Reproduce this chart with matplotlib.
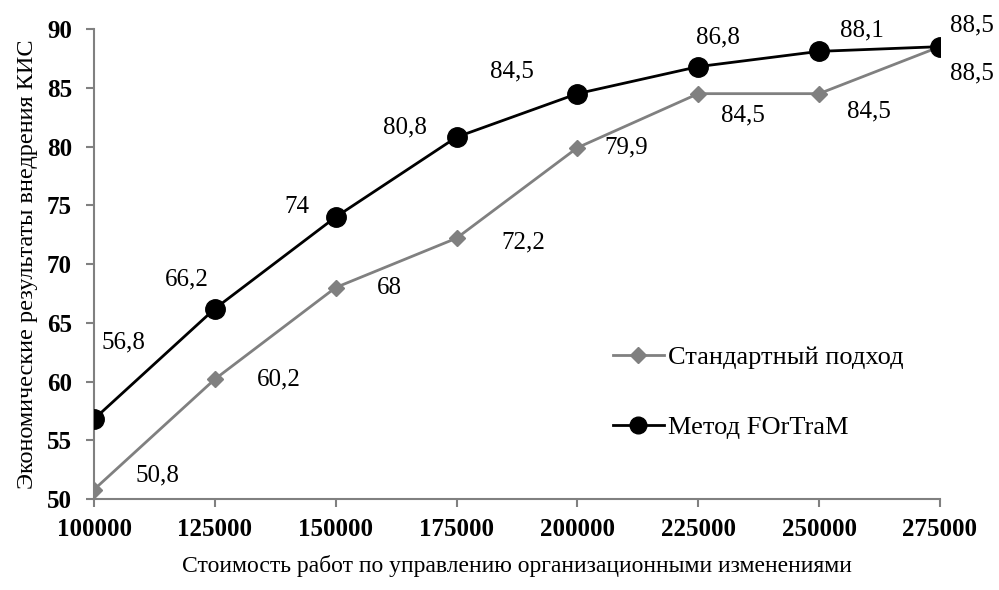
import matplotlib
matplotlib.use("Agg")
import matplotlib.pyplot as plt

plt.rcParams["font.family"] = ["Liberation Serif", "DejaVu Serif"]

costs = [100000, 125000, 150000, 175000, 200000, 225000, 250000, 275000]
standard = [50.8, 60.2, 68, 72.2, 79.9, 84.5, 84.5, 88.5]
fortram = [56.8, 66.2, 74, 80.8, 84.5, 86.8, 88.1, 88.5]
standard_labels = ["50,8", "60,2", "68", "72,2", "79,9", "84,5", "84,5", "88,5"]
fortram_labels = ["56,8", "66,2", "74", "80,8", "84,5", "86,8", "88,1", "88,5"]
xticks = [100000, 125000, 150000, 175000, 200000, 225000, 250000, 275000]
yticks = [50, 55, 60, 65, 70, 75, 80, 85, 90]

# label offsets in points (hand-placed like the original)
std_off = [(46, 10), (46, 0), (39, 0), (48, -3), (35, 0), (32, -16), (36, -13), (23, -19)]
fort_off = [(21, 55), (-20, 21), (-28, 7), (-37, 7), (-47, 16), (14, 21), (31, 15), (23, 15)]

GRAY = "#808080"

fig = plt.figure(figsize=(9.99, 5.9), dpi=100)
ax = fig.add_axes([0.0941, 0.1542, 0.8468, 0.7966])

ax.plot(costs, standard, color=GRAY, linewidth=2, marker="D", markersize=8.5,
        label="Стандартный подход", zorder=3)
ax.plot(costs, fortram, color="black", linewidth=2, marker="o", markersize=14,
        label="Метод FOrTraM", zorder=4)

for x, y, t, (dx, dy) in zip(costs, standard, standard_labels, std_off):
    ax.annotate(t, xy=(x, y), xytext=(dx, dy), textcoords="offset points",
                ha="center", va="center", fontsize=18)
for x, y, t, (dx, dy) in zip(costs, fortram, fortram_labels, fort_off):
    ax.annotate(t, xy=(x, y), xytext=(dx, dy), textcoords="offset points",
                ha="center", va="center", fontsize=18)

ax.set_xlim(100000, 275000)
ax.set_ylim(50, 90)
ax.set_xticks(xticks)
ax.set_yticks(yticks)
ax.set_xticklabels([str(v) for v in xticks], fontweight="bold", fontsize=18)
ax.set_yticklabels([str(v) for v in yticks], fontweight="bold", fontsize=18)
ax.tick_params(axis="both", colors=GRAY, labelcolor="black", length=6, width=1.5)
ax.tick_params(axis="x", pad=8)
ax.tick_params(axis="y", pad=10)

for s in ("top", "right"):
    ax.spines[s].set_visible(False)
for s in ("left", "bottom"):
    ax.spines[s].set_color(GRAY)
    ax.spines[s].set_linewidth(1.5)

ax.set_xlabel("Стоимость работ по управлению организационными изменениями",
              fontsize=17, labelpad=10)
ax.set_ylabel("Экономические результаты внедрения КИС", fontsize=17.5, labelpad=6)

leg = ax.legend(loc="center left", bbox_to_anchor=(0.613, 0.227), frameon=False,
                fontsize=19, handlelength=1.95, handletextpad=0.15, labelspacing=1.77,
                borderpad=0, borderaxespad=0)
sizes = [8.5, 12]
for h, ms in zip(leg.legend_handles, sizes):
    h.set_markersize(ms)

fig.savefig("out.png", dpi=100)
